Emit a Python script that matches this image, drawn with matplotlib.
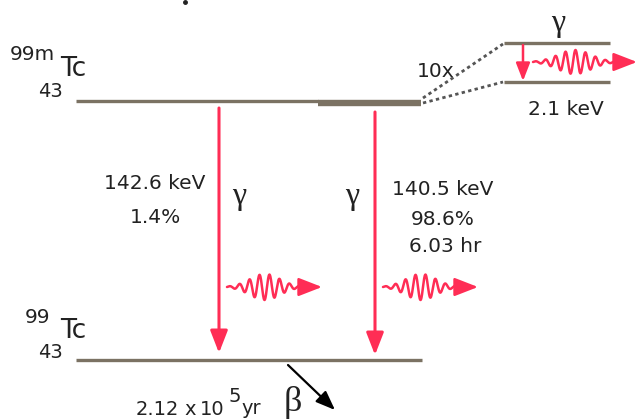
import numpy as np
import matplotlib
matplotlib.use("Agg")
import matplotlib.pyplot as plt

# ---- content ----
parent_mass = "99m"
daughter_mass = "99"
atomic_number = "43"
element = "Tc"
gamma_energies = ["142.6 keV", "140.5 keV"]
gamma_branches = ["1.4%", "98.6%"]
meta_half_life = "6.03 hr"
split_label = "10x"
split_energy = "2.1 keV"
beta_half_life_parts = ["2.12", "x", "10", "5", "yr"]

LEVEL = "#7b7263"
RED = "#ff2d55"
SANS = ["DejaVu Sans"]
SERIF = ["Liberation Serif", "DejaVu Serif"]
INK = "#222222"

fig = plt.figure(figsize=(6.39, 4.19), dpi=100)
ax = fig.add_axes([0, 0, 1, 1])
ax.set_xlim(0, 639)
ax.set_ylim(419, 0)
ax.axis("off")

def txt(x, y, s, size, family=SANS, ha="center", va="baseline", color=INK):
    ax.text(x, y, s, fontsize=size, family=family, ha=ha, va=va, color=color)

def arrow(x0, y0, x1, y1, color, lw, ms):
    ax.annotate("", xy=(x1, y1), xytext=(x0, y0),
                arrowprops=dict(arrowstyle="-|>,head_length=0.9,head_width=0.35",
                                color=color, lw=lw, mutation_scale=ms,
                                shrinkA=0, shrinkB=0))

def wave(x0, x1, yc, amp, wl):
    xw_end = x0 + (x1 - x0) * 0.8
    xs = np.linspace(x0, xw_end, 400)
    mid = x0 + (xw_end - x0) * 0.5
    sig = (xw_end - x0) * 0.28
    env = np.exp(-((xs - mid) / sig) ** 2)
    ys = yc - amp * env * np.sin(2 * np.pi * (xs - x0) / wl)
    ax.plot(xs, ys, color=RED, lw=1.8, solid_capstyle="round")
    arrow(xw_end, yc, x1, yc, RED, 1.8, 16)

# levels
ax.plot([76, 318], [101.5, 101.5], color=LEVEL, lw=2.4, solid_capstyle="butt")
ax.plot([318, 421], [103, 103], color=LEVEL, lw=4.6, solid_capstyle="butt")
ax.plot([76, 422], [359.5, 359.5], color=LEVEL, lw=2.4, solid_capstyle="butt")
ax.plot([504, 610], [43.5, 43.5], color=LEVEL, lw=2.4, solid_capstyle="butt")
ax.plot([504, 610], [82, 82], color=LEVEL, lw=2.4, solid_capstyle="butt")

# dotted connectors
ax.plot([423, 503], [98, 44], color="#555555", lw=2, linestyle=(0, (1.2, 1.2)))
ax.plot([423, 503], [103, 82], color="#555555", lw=2, linestyle=(0, (1.2, 1.2)))

# gamma transitions
arrow(219, 108, 219, 353, RED, 2.2, 15)
arrow(375, 112, 375, 355, RED, 2.2, 15)
arrow(523, 45, 523, 81, RED, 1.8, 12)

# photons
wave(227, 322, 287, 13, 10)
wave(383, 478, 287, 13, 10)
wave(533, 637, 62, 12, 10)

# beta
ax.annotate("", xy=(335, 410), xytext=(288, 365),
            arrowprops=dict(arrowstyle="-|>,head_length=0.9,head_width=0.35",
                            color="black", lw=1.6, mutation_scale=13,
                            shrinkA=0, shrinkB=0))

# labels: parent
txt(10, 60, parent_mass, 14.5, ha="left")
txt(60, 76, element, 19, ha="left")
txt(38, 97, atomic_number, 14, ha="left")
# labels: daughter
txt(25, 323, daughter_mass, 14.5, ha="left")
txt(60, 338, element, 19, ha="left")
txt(38, 358, atomic_number, 14, ha="left")

# transition texts
txt(155, 189, gamma_energies[0], 14.5)
txt(155, 223, gamma_branches[0], 14.5)
txt(443, 195, gamma_energies[1], 14.5)
txt(443, 225, gamma_branches[1], 14.5)
txt(445, 252, meta_half_life, 14.5)
txt(239, 196, "\u03b3", 23, family=SERIF, va="center")
txt(352, 196, "\u03b3", 23, family=SERIF, va="center")
txt(558, 24, "\u03b3", 23, family=SERIF, va="center")
txt(436, 77, split_label, 14.5)
txt(566, 115, split_energy, 14.5)

# beta half-life
bx = [136, 184, 200, 229, 241]
by = [415, 415, 415, 402, 414]
for x, y, s in zip(bx, by, beta_half_life_parts):
    txt(x, y, s, 14, ha="left")
txt(293, 402, "\u03b2", 26, family=SERIF, va="center")

ax.plot([185], [2], marker="o", ms=2.5, color=INK)

fig.savefig("out.png", dpi=100)
